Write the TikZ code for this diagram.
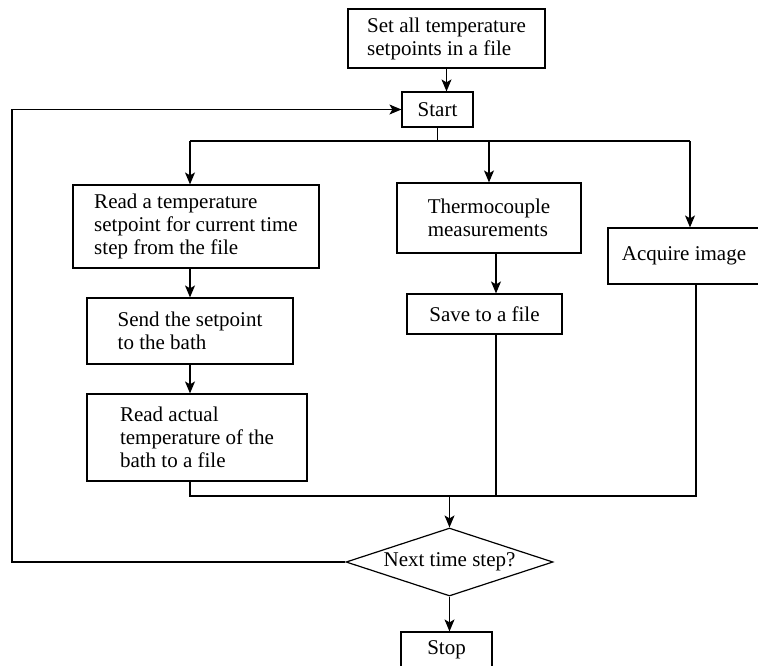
\documentclass[tikz,border=0pt]{standalone}
\usepackage{fontspec}
\setmainfont{Liberation Serif}
\usetikzlibrary{shapes.geometric,arrows.meta}

\begin{document}
\begin{tikzpicture}[x=0.5pt,y=0.5pt,line width=0.6pt,font=\fontsize{10.5}{11.5}\selectfont]
            \tikzstyle{every node}+=[inner sep=0pt]
            \tikzstyle{box}=[draw, align=left]
            \tikzstyle{arr}=[-{Stealth[length=6pt,width=5pt,inset=1.5pt]}]
            \useasboundingbox (0,0) rectangle (758,-665);
            \node [box, minimum width=98.5pt, minimum height=29.5pt] (setall) at (446.5,-38.5) {Set all temperature\\setpoints in a file};
            \node [box, minimum width=35.5pt, minimum height=17.5pt] (start) at (437.5,-109.5) {Start};
            \node [box, minimum width=123pt, minimum height=41.5pt] (read) at (196,-226.5) {Read a temperature\\setpoint for current time\\step from the file};
            \node [box, minimum width=103pt, minimum height=33pt] (send) at (190,-331) {Send the setpoint\\to the bath};
            \node [box, minimum width=110pt, minimum height=43.5pt] (actual) at (197,-437.5) {Read actual\\temperature of the\\bath to a file};
            \node [box, minimum width=92pt, minimum height=35pt] (thermo) at (489,-218) {Thermocouple\\measurements};
            \node [box, minimum width=77.5pt, minimum height=20pt] (save) at (484.5,-314) {Save to a file};
            \node [box, minimum width=76pt, minimum height=28pt] (acquire) at (684,-256) {Acquire image};
            \node [draw, shape=diamond, aspect=3, minimum width=103.5pt, minimum height=34pt] (next) at (449.5,-562) {Next time step?};
            \node [box, minimum width=45.5pt, minimum height=18pt] (stop) at (446.5,-650) {Stop};
            \coordinate (bl) at (190,-141);
            \coordinate (br) at (690,-141);
            \coordinate (ml) at (190,-496);
            \coordinate (mc) at (496,-496);
            \coordinate (mr) at (696,-496);
            \coordinate (lp) at (12,-562);
            \draw [arr] (setall.south) -- (setall.south |- start.north);
            \draw (start.south) -- (start.south |- bl);
            \draw (bl) -- (br);
            \draw [arr] (bl) -- (bl |- read.north);
            \draw [arr] (thermo.north |- bl) -- (thermo.north);
            \draw [arr] (br) -- (br |- acquire.north);
            \draw [arr] (bl |- read.south) -- (bl |- send.north);
            \draw [arr] (bl |- send.south) -- (bl |- actual.north);
            \draw [arr] (mc |- thermo.south) -- (mc |- save.north);
            \draw (ml |- actual.south) -- (ml) -- (mr) -- (mr |- acquire.south);
            \draw (mc |- save.south) -- (mc);
            \draw [arr] (next.north |- ml) -- (next.north);
            \draw [arr] (next.south) -- (next.south |- stop.north);
            \draw [arr] (next.west) -- (lp) |- (start.west);
\end{tikzpicture}
\end{document}
